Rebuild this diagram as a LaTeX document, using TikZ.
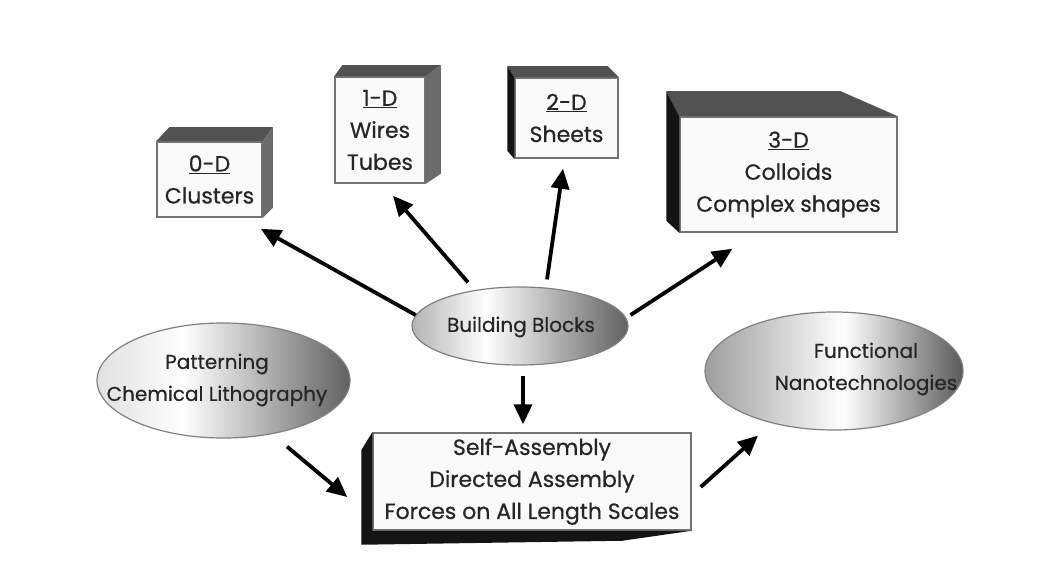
\documentclass[tikz,border=0pt]{standalone}
\usepackage{fontspec}
\setmainfont{Poppins}[FakeBold=0.6]
\usetikzlibrary{arrows.meta,shapes.geometric}

% horizontal grey shadings of the three ovals
\pgfdeclarehorizontalshading{blockshade}{100bp}{color(0bp)=(black!30); color(25bp)=(black!30); color(42bp)=(white); color(75bp)=(black!62); color(100bp)=(black!62)}
\pgfdeclarehorizontalshading{patshade}{100bp}{color(0bp)=(black!12); color(25bp)=(black!12); color(42bp)=(white); color(75bp)=(black!62); color(100bp)=(black!62)}
\pgfdeclarehorizontalshading{funshade}{100bp}{color(0bp)=(black!38); color(25bp)=(black!38); color(52bp)=(white); color(75bp)=(black!65); color(100bp)=(black!65)}

\tikzset{
  lbl/.style={font=\fontsize{22}{32}\selectfont, text=black!85, align=center},
  ovallbl/.style={lbl, font=\fontsize{20}{32}\selectfont},
  box/.style={lbl, draw=black!55, line width=1.5pt, fill=black!2, inner sep=0pt},
  blob/.style={ellipse, draw=black!50, line width=1.2pt, inner sep=0pt},
  topface/.style={fill=black!68},
  sideface/.style={fill=black!58},
  darkface/.style={fill=black!92},
  arr/.style={line width=3.8pt, -{Triangle[length=20pt,width=18pt]}}
}

\begin{document}
\begin{tikzpicture}[x=1pt, y=-1pt]
    \useasboundingbox[fill=white] (0,0) rectangle (1041,564);

    % building block boxes
    \node[box, minimum width=105pt, minimum height=75pt] (zeroD) at (209.5,179.5) {\underline{0-D}\\Clusters};
    \node[box, minimum width=90pt, minimum height=106pt] (oneD) at (380,130) {\underline{1-D}\\Wires\\Tubes};
    \node[box, minimum width=103pt, minimum height=80pt] (twoD) at (566.5,118) {\underline{2-D}\\Sheets};
    \node[box, minimum width=217pt, minimum height=115pt] (threeD) at (788.5,174.5) {\underline{3-D}\\Colloids\\Complex shapes};
    \node[box, minimum width=318pt, minimum height=97pt] (selfAsm) at (532,481.5) {Self-Assembly\\Directed Assembly\\Forces on All Length Scales};

    % faces of the boxes
    \fill[topface] (zeroD.north west) -- ++(13pt,14pt) -- ([shift={(10pt,14pt)}]zeroD.north east) -- (zeroD.north east) -- cycle;
    \fill[sideface] (zeroD.north east) -- ++(10pt,14pt) -- ([shift={(10pt,10pt)}]zeroD.south east) -- (zeroD.south east) -- cycle;
    \fill[topface] (oneD.north west) -- ++(8pt,11pt) -- ([shift={(15pt,11pt)}]oneD.north east) -- (oneD.north east) -- cycle;
    \fill[sideface] (oneD.north east) -- ++(15pt,11pt) -- ([shift={(15pt,10pt)}]oneD.south east) -- (oneD.south east) -- cycle;
    \fill[topface] (twoD.north west) -- ++(-7pt,11pt) -- ([shift={(-11pt,11pt)}]twoD.north east) -- (twoD.north east) -- cycle;
    \fill[darkface] (twoD.north west) -- ++(-7pt,11pt) -- ([shift={(-7pt,8pt)}]twoD.south west) -- (twoD.south west) -- cycle;
    \fill[topface] (threeD.north west) -- ++(-13pt,25pt) -- ([shift={(-57pt,25pt)}]threeD.north east) -- (threeD.north east) -- cycle;
    \fill[darkface] (threeD.north west) -- ++(-13pt,25pt) -- ([shift={(-13pt,12pt)}]threeD.south west) -- (threeD.south west) -- cycle;
    \fill[darkface] (selfAsm.north west) -- ++(-11pt,-18pt) -- ([shift={(-11pt,-14pt)}]selfAsm.south west) -- ([shift={(250pt,-10pt)}]selfAsm.south west) -- (selfAsm.south east) -- (selfAsm.south west) -- cycle;

    % ovals
    \node[blob, shading=blockshade, minimum width=216pt, minimum height=78pt] (blocks) at (520,326) {};
    \node[ovallbl] (blocksText) at (521,327) {Building Blocks};
    \node[blob, shading=patshade, minimum width=253pt, minimum height=115pt] (pattern) at (223.5,380.5) {};
    \node[ovallbl] (patternText) at (217,380) {Patterning\\Chemical Lithography};
    \node[blob, shading=funshade, minimum width=258pt, minimum height=118pt] (func) at (834,371) {};
    \node[ovallbl] (funcText) at (866,369) {Functional\\Nanotechnologies};

    % arrows
    \draw[arr] (blocks.174) -- ([shift={(-2pt,-11pt)}]zeroD.south east);
    \draw[arr] ([shift={(-52pt,4pt)}]blocks.north) -- ([shift={(13pt,-12pt)}]oneD.south);
    \draw[arr] ([shift={(27pt,7pt)}]blocks.north) -- ([shift={(-3.5pt,-10pt)}]twoD.south);
    \draw[arr] ([shift={(2pt,11pt)}]blocks.east) -- ([shift={(53pt,-16pt)}]threeD.south west);
    \draw[arr] ([shift={(3pt,-10pt)}]blocks.south) -- ([shift={(-9pt,8pt)}]selfAsm.north);
    \draw[arr] ([shift={(63.5pt,-8pt)}]pattern.south) -- ([shift={(-25pt,-15.5pt)}]selfAsm.west);
    \draw[arr] ([shift={(9pt,-5.5pt)}]selfAsm.east) -- ([shift={(-76pt,-5pt)}]func.south);
\end{tikzpicture}
\end{document}
